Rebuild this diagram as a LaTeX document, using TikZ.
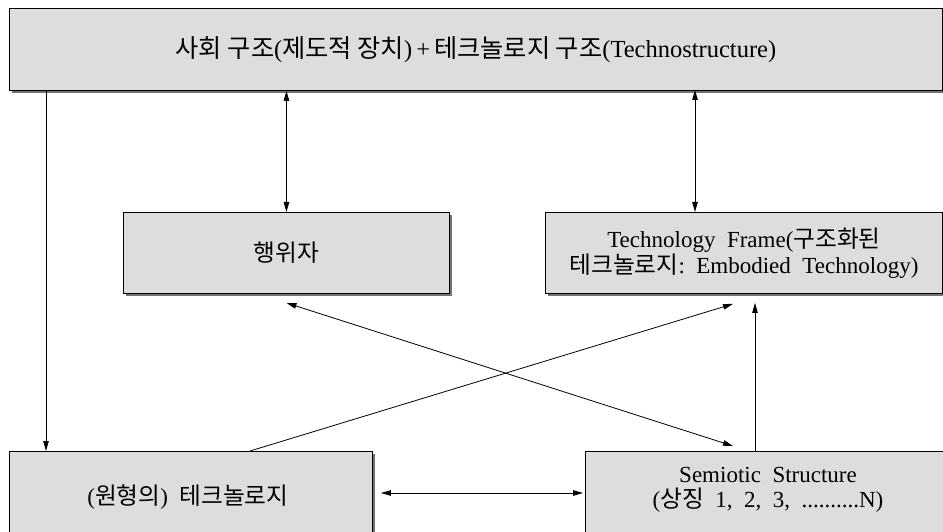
\documentclass[tikz,border=0pt]{standalone}
\usepackage{fontspec}
\setmainfont{Liberation Serif}
\newfontfamily\kr[Scale=1.03]{Noto Sans CJK KR}
\newcommand{\K}[1]{{\kr #1}}
\usetikzlibrary{arrows.meta,shadows,calc}
\definecolor{boxgray}{RGB}{221,221,221}
\begin{document}
\begin{tikzpicture}[x=1pt,y=-1pt,
  box/.style={draw=black, line width=0.9pt, fill=boxgray,
    drop shadow={shadow xshift=2.2pt, shadow yshift=-2.2pt, fill=black!55, opacity=1},
    inner sep=0pt, anchor=north west},
  lbl/.style={font=\fontsize{23}{25.5}\selectfont, align=center, inner sep=0pt},
  arr/.style={-{Triangle[length=10pt,width=5.5pt]}, line width=0.8pt},
  dbl/.style={{Triangle[length=10pt,width=5.5pt]}-{Triangle[length=10pt,width=5.5pt]}, line width=0.8pt}]
\useasboundingbox (0,0) rectangle (943,532);
\clip (0,0) rectangle (943,532);
\node[box, minimum width=933pt, minimum height=82pt] (T) at (9,8) {};
\node[lbl, font=\fontsize{24.5}{27}\selectfont] (Tt) at (T.center) {\K{사회 구조}(\K{제도적 장치})\,+\,\K{테크놀로지 구조}(Technostructure)};
\node[box, minimum width=326pt, minimum height=81pt] (A) at (123,212) {};
\node[lbl] (At) at (A.center) {\K{행위자}};
\node[box, minimum width=397pt, minimum height=81pt] (F) at (545,212) {};
\node[lbl] (Ft) at (F.center) {Technology\ \ Frame(\K{구조화된}\\ \K{테크놀로지}:\ \ Embodied\ \ Technology)};
\node[box, minimum width=363pt, minimum height=100pt] (P) at (9,451) {};
\node[lbl] (Pt) at (188,497) {(\K{원형의})\ \ \K{테크놀로지}};
\node[box, minimum width=366pt, minimum height=100pt] (S) at (585,451) {};
\node[lbl] (St) at (768,490) {Semiotic\ \ Structure\\ (\K{상징}\ \ 1,\ \ 2,\ \ 3,\ \ ..........N)};
% connectors
\draw[arr] ($(T.south west)+(37,0)$) -- ($(P.north west)+(37,0)$);
\draw[dbl] (A.north) -- (A.north |- T.south);
\draw[dbl] ($(F.north west)+(150,0)$) -- ($(F.north west)+(150,-122)$);
\draw[dbl] ($(A.south)+(0,9)$) -- ($(S.north west)+(148,-5)$);
\draw[arr] ($(P.north west)+(241,0)$) -- ($(F.south west)+(188,10)$);
\draw[arr] ($(S.north west)+(170,0)$) -- ($(F.south west)+(210,9)$);
\draw[dbl] ($(P.north east)+(8,42)$) -- ($(S.north west)+(-2,42)$);
\end{tikzpicture}
\end{document}
